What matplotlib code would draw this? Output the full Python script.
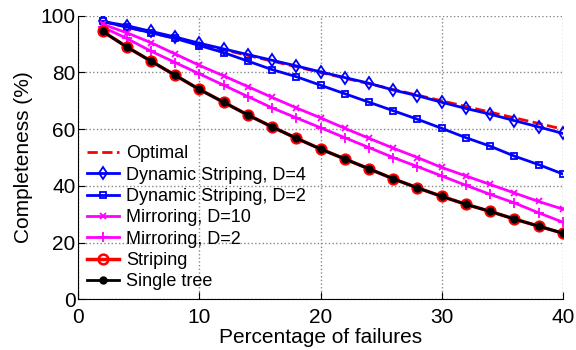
import matplotlib
matplotlib.use("Agg")
import matplotlib.pyplot as plt

plt.rcParams['font.family'] = ['Liberation Sans', 'DejaVu Sans']

x = [2, 4, 6, 8, 10, 12, 14, 16, 18, 20, 22, 24, 26, 28, 30, 32, 34, 36, 38, 40]
optimal = [98, 96, 94, 92, 90, 88, 86, 84, 82, 80, 78, 76, 74, 72, 70, 68, 66, 64, 62, 60]
dyn4 = [98, 96.5, 94.5, 92.5, 90.3, 88.3, 86.3, 84.3, 82.3, 80.2, 78.2, 76.2, 73.8, 71.8, 69.5, 67.3, 65.3, 63, 60.8, 58.5]
dyn2 = [98, 96, 94, 92, 89.5, 87, 84, 81, 78.5, 75.5, 72.5, 69.5, 66.5, 63.5, 60.3, 57, 54, 50.5, 47.5, 44.2]
mir10 = [97, 94, 90.5, 86.5, 82.5, 78.8, 75, 71.2, 67.5, 64, 60.3, 56.8, 53.3, 50, 46.5, 43.5, 40.5, 37.5, 34.5, 31.8]
mir2 = [96, 92, 87.5, 83.5, 79.5, 75.5, 71.5, 67.5, 64, 60.5, 57, 53.5, 50, 46.8, 43.5, 40.2, 37, 34, 30.5, 27.2]
striping = [94.5, 89, 84, 79, 74, 69.5, 65, 60.8, 56.8, 53, 49.5, 46, 42.5, 39.3, 36.3, 33.5, 31, 28.3, 25.8, 23.3]
single = [94.5, 89, 84, 79, 74, 69.5, 65, 60.8, 56.8, 53, 49.5, 46, 42.5, 39.3, 36.3, 33.5, 31, 28.3, 25.8, 23.3]

fig = plt.figure(figsize=(5.76, 3.5), dpi=100)
ax = fig.add_axes([0.136, 0.145, 0.841, 0.81])

ax.plot(x, optimal, '--', color='red', lw=2, label='Optimal', zorder=3)
ax.plot(x, dyn4, '-', color='blue', lw=2, marker='d', ms=6, mfc='none', mew=1.3, label='Dynamic Striping, D=4', zorder=4)
ax.plot(x, dyn2, '-', color='blue', lw=2, marker='s', ms=5, mfc='none', mew=1.3, label='Dynamic Striping, D=2', zorder=4)
ax.plot(x, mir10, '-', color='magenta', lw=2, marker='x', ms=5, mew=1.3, label='Mirroring, D=10', zorder=4)
ax.plot(x, mir2, '-', color='magenta', lw=2, marker='+', ms=7, mew=1.3, label='Mirroring, D=2', zorder=4)
ax.plot(x, striping, '-', color='red', lw=2.5, marker='o', ms=7, mfc='none', mew=1.8, label='Striping', zorder=5)
ax.plot(x, single, '-', color='black', lw=2, marker='o', ms=5, mfc='black', label='Single tree', zorder=6)

ax.set_xlim(0, 40)
ax.set_ylim(0, 100)
ax.set_xticks([0, 10, 20, 30, 40])
ax.set_yticks([0, 20, 40, 60, 80, 100])
ax.grid(True, linestyle=':', color='#888888', lw=1)
ax.spines['top'].set_visible(False)
ax.spines['right'].set_visible(False)
ax.tick_params(direction='in', labelsize=15, length=5)
ax.tick_params(axis='x', pad=6)
ax.tick_params(axis='y', pad=2)
ax.set_xlabel('Percentage of failures', fontsize=15, labelpad=1)
ax.set_ylabel('Completeness (%)', fontsize=15, labelpad=5)

leg = ax.legend(loc='lower left', frameon=False, fontsize=13, handlelength=1.75,
                borderaxespad=0.1, labelspacing=0.24, handletextpad=0.4,
                bbox_to_anchor=(0.0, 0.0))

fig.savefig('out.png', dpi=100)
